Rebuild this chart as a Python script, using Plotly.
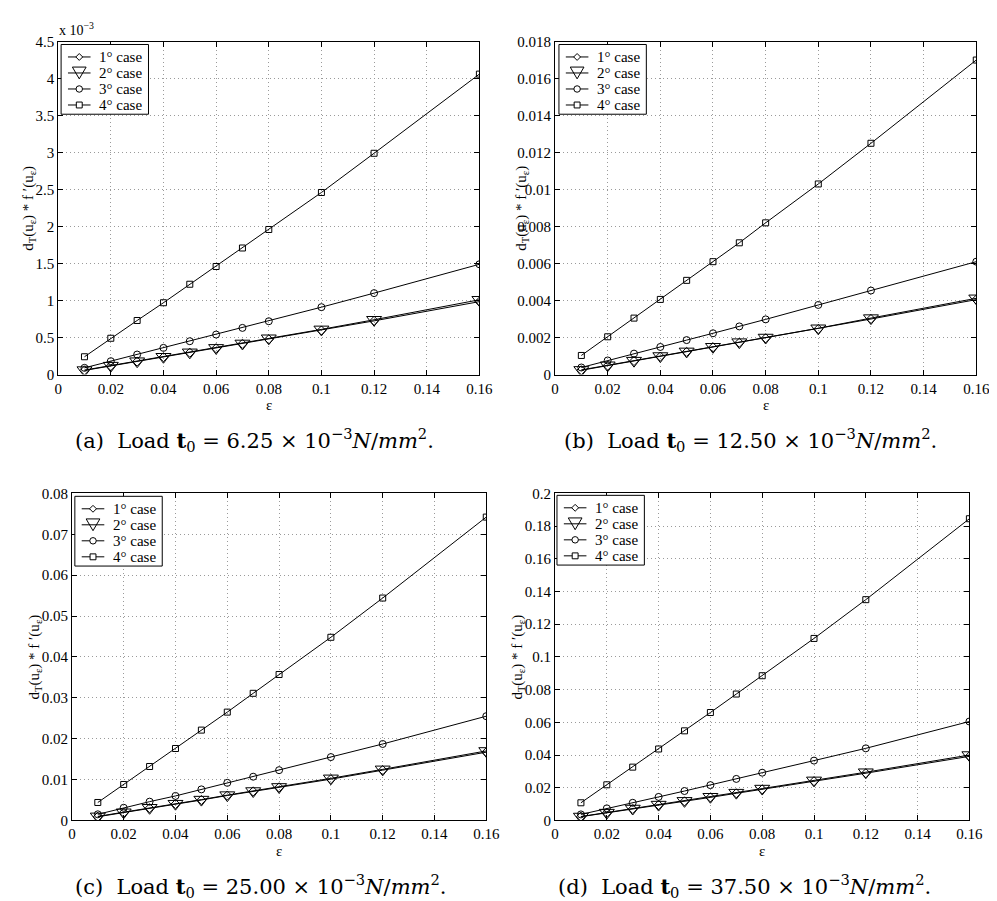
import plotly.graph_objects as go

W, H = 997, 901

eps = [0.01, 0.02, 0.03, 0.04, 0.05, 0.06, 0.07, 0.08, 0.10, 0.12, 0.16]
x_ticks = [0, 0.02, 0.04, 0.06, 0.08, 0.10, 0.12, 0.14, 0.16]
x_ticktext = ["0", "0.02", "0.04", "0.06", "0.08", "0.1", "0.12", "0.14", "0.16"]

# (a) values in units of 1e-3
a_case1 = [0.055, 0.115, 0.175, 0.235, 0.295, 0.355, 0.415, 0.475, 0.595, 0.725, 0.985]
a_case2 = [0.06, 0.12, 0.18, 0.24, 0.30, 0.36, 0.42, 0.49, 0.61, 0.74, 1.01]
a_case3 = [0.09, 0.18, 0.27, 0.36, 0.45, 0.54, 0.63, 0.72, 0.91, 1.10, 1.49]
a_case4 = [0.24, 0.49, 0.73, 0.97, 1.22, 1.46, 1.71, 1.96, 2.46, 2.99, 4.06]
a_yticks = [0, 0.5, 1, 1.5, 2, 2.5, 3, 3.5, 4, 4.5]
a_yticktext = ["0", "0.5", "1", "1.5", "2", "2.5", "3", "3.5", "4", "4.5"]

b_case1 = [0.00023, 0.00048, 0.00073, 0.00097, 0.00122, 0.00147, 0.00172, 0.00196, 0.00246, 0.00300, 0.00405]
b_case2 = [0.00025, 0.00050, 0.00075, 0.00100, 0.00125, 0.00150, 0.00175, 0.00200, 0.00250, 0.00305, 0.00412]
b_case3 = [0.00038, 0.00076, 0.00113, 0.00149, 0.00186, 0.00223, 0.00260, 0.00298, 0.00376, 0.00454, 0.00610]
b_case4 = [0.00103, 0.00204, 0.00305, 0.00406, 0.00509, 0.00610, 0.00712, 0.00820, 0.01030, 0.01250, 0.01700]
b_yticks = [0, 0.002, 0.004, 0.006, 0.008, 0.010, 0.012, 0.014, 0.016, 0.018]
b_yticktext = ["0", "0.002", "0.004", "0.006", "0.008", "0.01", "0.012", "0.014", "0.016", "0.018"]

c_case1 = [0.0009, 0.0019, 0.0030, 0.0040, 0.0050, 0.0061, 0.0071, 0.0081, 0.0101, 0.0123, 0.0167]
c_case2 = [0.0010, 0.0020, 0.0031, 0.0041, 0.0051, 0.0062, 0.0072, 0.0082, 0.0103, 0.0125, 0.0170]
c_case3 = [0.0015, 0.0031, 0.0046, 0.0060, 0.0076, 0.0092, 0.0107, 0.0123, 0.0155, 0.0187, 0.0255]
c_case4 = [0.0044, 0.0088, 0.0132, 0.0176, 0.0221, 0.0265, 0.0311, 0.0357, 0.0448, 0.0544, 0.0742]
c_yticks = [0, 0.01, 0.02, 0.03, 0.04, 0.05, 0.06, 0.07, 0.08]
c_yticktext = ["0", "0.01", "0.02", "0.03", "0.04", "0.05", "0.06", "0.07", "0.08"]

d_case1 = [0.0023, 0.0046, 0.0070, 0.0094, 0.0117, 0.0141, 0.0166, 0.0190, 0.0240, 0.0289, 0.0392]
d_case2 = [0.0024, 0.0048, 0.0073, 0.0097, 0.0120, 0.0145, 0.0170, 0.0195, 0.0245, 0.0295, 0.0400]
d_case3 = [0.0037, 0.0074, 0.0108, 0.0144, 0.0180, 0.0216, 0.0254, 0.0292, 0.0366, 0.0441, 0.0605]
d_case4 = [0.0108, 0.0218, 0.0326, 0.0437, 0.0548, 0.0660, 0.0773, 0.0885, 0.1113, 0.1350, 0.1845]
d_yticks = [0, 0.02, 0.04, 0.06, 0.08, 0.10, 0.12, 0.14, 0.16, 0.18, 0.2]
d_yticktext = ["0", "0.02", "0.04", "0.06", "0.08", "0.1", "0.12", "0.14", "0.16", "0.18", "0.2"]

case_names = ["1° case", "2° case", "3° case", "4° case"]
captions = [
    "(a)  Load <b>t</b><sub>0</sub> = 6.25 × 10<sup>−3</sup><i>N</i>/<i>mm</i><sup>2</sup>.",
    "(b)  Load <b>t</b><sub>0</sub> = 12.50 × 10<sup>−3</sup><i>N</i>/<i>mm</i><sup>2</sup>.",
    "(c)  Load <b>t</b><sub>0</sub> = 25.00 × 10<sup>−3</sup><i>N</i>/<i>mm</i><sup>2</sup>.",
    "(d)  Load <b>t</b><sub>0</sub> = 37.50 × 10<sup>−3</sup><i>N</i>/<i>mm</i><sup>2</sup>.",
]

FONT = "Liberation Serif"
CAPFONT = "DejaVu Serif"

# pixel boxes of each plot area: (left, right, top, bottom)
boxes = [(47, 476, 26, 365), (553, 982, 26, 365), (61, 483, 486, 819), (553, 975, 486, 819)]
legend_pos = [(50, 29), (557, 29), (64, 489), (555, 488)]
ylabel_x = [17, 519, 23, 515]
caption_pos = [(247, 432), (752, 432), (254, 886), (746, 886)]

panels = [
    (a_case1, a_case2, a_case3, a_case4, a_yticks, a_yticktext, [0, 4.5]),
    (b_case1, b_case2, b_case3, b_case4, b_yticks, b_yticktext, [0, 0.018]),
    (c_case1, c_case2, c_case3, c_case4, c_yticks, c_yticktext, [0, 0.08]),
    (d_case1, d_case2, d_case3, d_case4, d_yticks, d_yticktext, [0, 0.2]),
]

markers = [
    dict(symbol="diamond-open", size=7),
    dict(symbol="triangle-down-open", size=13),
    dict(symbol="circle-open", size=7),
    dict(symbol="square-open", size=6),
]


def px(x):
    return x / W


def py(y):
    return 1 - y / H


def legend_shapes(left, top):
    shp = []
    bw, bh = 89, 71
    shp.append(dict(type="rect", xref="paper", yref="paper", layer="above",
                    x0=px(left), x1=px(left + bw), y0=py(top + bh), y1=py(top),
                    fillcolor="white", line=dict(color="black", width=1)))
    ann = []
    rows = [12.7, 29.0, 45.3, 61.6]
    for k, dy in enumerate(rows):
        cy = top + dy
        x0, x1 = left + 7, left + 30
        cx = (x0 + x1) / 2
        shp.append(dict(type="line", xref="paper", yref="paper", layer="above",
                        x0=px(x0), x1=px(x1), y0=py(cy), y1=py(cy),
                        line=dict(color="black", width=1)))
        if k == 0:
            r = 3.5
            path = "M {},{} L {},{} L {},{} L {},{} Z".format(
                px(cx), py(cy - r), px(cx + r), py(cy), px(cx), py(cy + r), px(cx - r), py(cy))
            shp.append(dict(type="path", xref="paper", yref="paper", layer="above", path=path,
                            fillcolor="white", line=dict(color="black", width=1)))
        elif k == 1:
            hw, ht = 7, 6
            path = "M {},{} L {},{} L {},{} Z".format(
                px(cx - hw), py(cy - ht), px(cx + hw), py(cy - ht), px(cx), py(cy + ht))
            shp.append(dict(type="path", xref="paper", yref="paper", layer="above", path=path,
                            fillcolor="rgba(0,0,0,0)", line=dict(color="black", width=1)))
        elif k == 2:
            r = 3.3
            shp.append(dict(type="circle", xref="paper", yref="paper", layer="above",
                            x0=px(cx - r), x1=px(cx + r), y0=py(cy + r), y1=py(cy - r),
                            fillcolor="white", line=dict(color="black", width=1)))
        else:
            r = 3
            shp.append(dict(type="rect", xref="paper", yref="paper", layer="above",
                            x0=px(cx - r), x1=px(cx + r), y0=py(cy + r), y1=py(cy - r),
                            fillcolor="white", line=dict(color="black", width=1)))
        ann.append(dict(text=case_names[k], x=px(left + 37), y=py(cy), xref="paper", yref="paper",
                        showarrow=False, xanchor="left", yanchor="middle",
                        font=dict(family=FONT, size=15, color="black")))
    return shp, ann


fig = go.Figure()
layout = dict(
    width=W, height=H, autosize=False,
    margin=dict(l=0, r=0, t=0, b=0),
    paper_bgcolor="white", plot_bgcolor="white",
    font=dict(family=FONT, size=15, color="black"),
    showlegend=False,
)
annotations = []
shapes = []

for i, (c1, c2, c3, c4, yt, ytt, yr) in enumerate(panels):
    n = "" if i == 0 else str(i + 1)
    xa, ya = "x" + n, "y" + n
    for k, vals in enumerate([c1, c2, c3, c4]):
        fig.add_trace(go.Scatter(
            x=eps, y=vals, mode="lines+markers", name=case_names[k],
            xaxis=xa, yaxis=ya, showlegend=False,
            line=dict(color="black", width=1),
            marker=dict(symbol=markers[k]["symbol"], size=markers[k]["size"],
                        color="black", line=dict(color="black", width=1)),
        ))
    l, r, t, b = boxes[i]
    axis_common = dict(
        showline=True, linecolor="black", linewidth=1, mirror="ticks",
        ticks="inside", ticklen=5, tickcolor="black",
        showgrid=True, gridcolor="#9a9a9a", griddash="1px,3px", gridwidth=1,
        zeroline=False, tickfont=dict(family=FONT, size=15, color="black"),
    )
    layout["xaxis" + n] = dict(
        domain=[l / W, r / W], anchor=ya, range=[0, 0.16],
        tickvals=x_ticks, ticktext=x_ticktext, **axis_common)
    layout["yaxis" + n] = dict(
        domain=[1 - b / H, 1 - t / H], anchor=xa, range=yr,
        tickvals=yt, ticktext=ytt, **axis_common)
    s, a = legend_shapes(*legend_pos[i])
    shapes += s
    annotations += a
    # x label
    annotations.append(dict(
        text="ε", x=px((l + r) / 2), y=py(b + 31), xref="paper", yref="paper",
        showarrow=False, font=dict(family=FONT, size=15), xanchor="center", yanchor="middle"))
    # y label
    annotations.append(dict(
        text="d<sub>T</sub>(u<sub>ε</sub>) * f ′(u<sub>ε</sub>)",
        x=px(ylabel_x[i]), y=py((t + b) / 2), xref="paper", yref="paper",
        showarrow=False, textangle=-90, font=dict(family=FONT, size=15),
        xanchor="center", yanchor="middle"))
    cx, cy = caption_pos[i]
    annotations.append(dict(
        text=captions[i], x=px(cx), y=py(cy), xref="paper", yref="paper",
        showarrow=False, font=dict(family=CAPFONT, size=21), xanchor="center", yanchor="middle"))

annotations.append(dict(
    text="x 10<sup>−3</sup>", x=px(46), y=py(24), xref="paper", yref="paper",
    showarrow=False, font=dict(family=FONT, size=14), xanchor="left", yanchor="bottom"))

layout["annotations"] = annotations
layout["shapes"] = shapes
fig.update_layout(**layout)
fig.write_html("out.html")
